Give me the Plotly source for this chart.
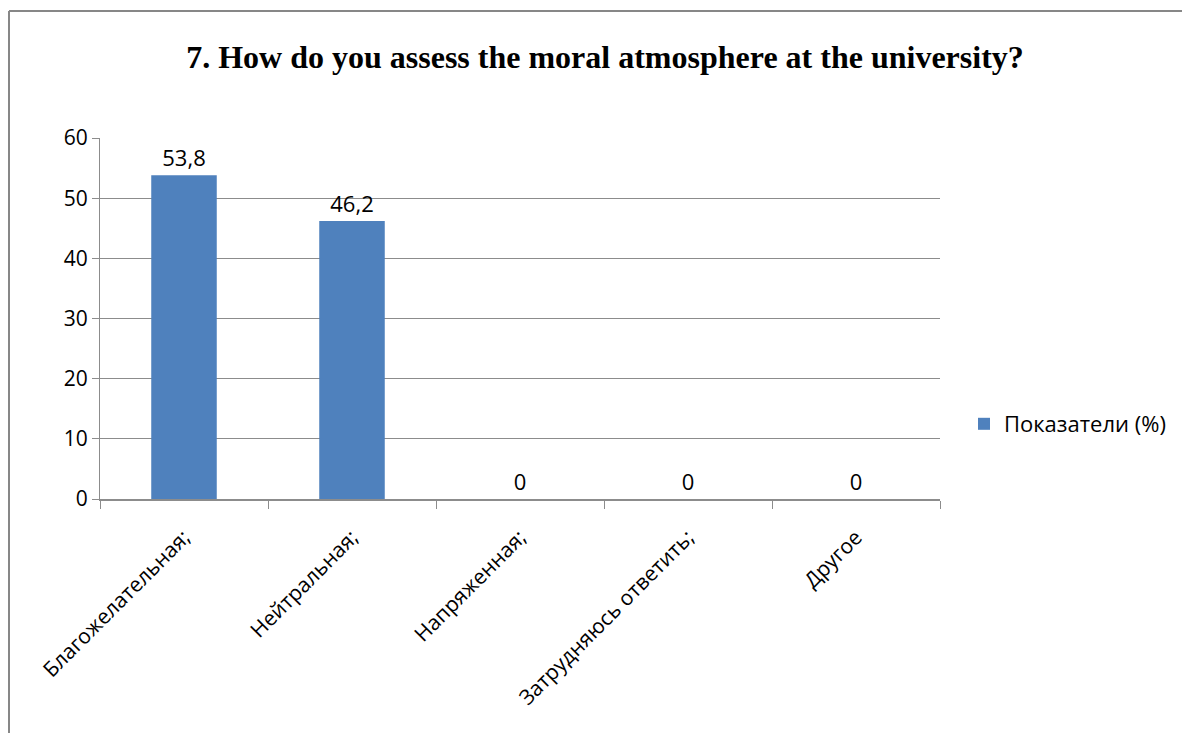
import plotly.graph_objects as go

categories = ["Благожелательная;", "Нейтральная;", "Напряженная;", "Затрудняюсь ответить;", "Другое"]
values = [53.8, 46.2, 0, 0, 0]
series_name = "Показатели (%)"
title_text = "7. How do you assess the moral atmosphere at the university?"
y_ticks = [0, 10, 20, 30, 40, 50, 60]

labels = [("%g" % v).replace(".", ",") for v in values]

# page body has an 8px margin; figure coordinates = page coordinates - 8
W, H = 1182, 725
L, T = 92, 130
R = W - 932
B = H - 491
pw, ph = W - L - R, H - T - B

FONT = "Open Sans, Liberation Sans, sans-serif"

fig = go.Figure()
fig.add_trace(go.Bar(
    x=categories, y=values, name=series_name,
    marker=dict(color="#4F81BD", line=dict(width=0)),
    text=labels, textposition="outside", cliponaxis=False,
    textfont=dict(family=FONT, size=22, color="#000000"),
    showlegend=True,
))

def px_x(p):
    return (p - L) / pw

def px_y(p):
    return (H - B - p) / ph

fig.add_shape(type="line", xref="paper", yref="paper",
              x0=px_x(1), x1=px_x(1300), y0=px_y(3), y1=px_y(3),
              line=dict(color="#878787", width=2))
fig.add_shape(type="line", xref="paper", yref="paper",
              x0=px_x(1), x1=px_x(1), y0=px_y(3), y1=px_y(800),
              line=dict(color="#878787", width=2))

fig.update_layout(
    width=W, height=H,
    margin=dict(l=L, r=R, t=T, b=B, pad=0),
    paper_bgcolor="white", plot_bgcolor="white",
    bargap=0.61,
    title=dict(text="<b>" + title_text + "</b>", x=597 / W, xref="container", xanchor="center",
               y=1 - 49 / H, yref="container", yanchor="middle",
               font=dict(family="Liberation Serif, Times New Roman, serif", size=32, color="#000000")),
    legend=dict(x=px_x(956), y=px_y(416), xanchor="left", yanchor="middle",
                font=dict(family=FONT, size=22, color="#000000"),
                bgcolor="rgba(0,0,0,0)", itemwidth=30),
    showlegend=True,
)
fig.update_yaxes(range=[0, 60], tickvals=y_ticks, showgrid=True, gridcolor="#8C8C8C", gridwidth=1,
                 showline=True, linecolor="#8C8C8C", linewidth=1,
                 ticks="outside", ticklen=7, tickcolor="#8C8C8C",
                 tickfont=dict(family=FONT, size=21, color="#000000"),
                 zeroline=False, fixedrange=True)
fig.update_xaxes(showline=True, linecolor="#8C8C8C", linewidth=1.5,
                 ticks="outside", ticklen=8, tickcolor="#8C8C8C", tickson="boundaries",
                 tickangle=-45, ticklabelstandoff=16,
                 tickfont=dict(family=FONT, size=21, color="#000000"),
                 showgrid=False, fixedrange=True)

fig.write_html("out.html")
